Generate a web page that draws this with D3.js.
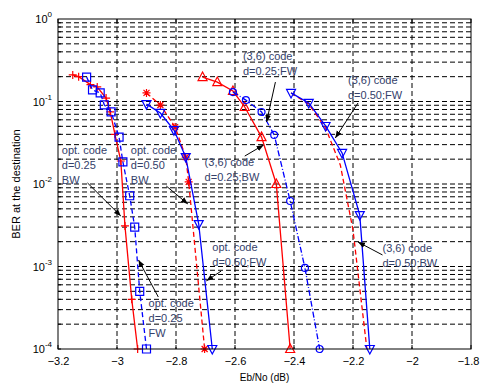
<!DOCTYPE html>
<html>
<head>
<meta charset="utf-8">
<script src="https://cdn.jsdelivr.net/npm/d3@7"></script>
<style>
  body { margin: 0; background: #fff; }
  svg { font-family: "Liberation Sans", Arial, sans-serif; }
</style>
</head>
<body>
<div id="chart"></div>
<script>
// x: Eb/No (dB), y: BER at the destination
const optBw025X = [-3.15, -3.13, -3.09, -3.067, -3.037, -3.023, -3.007, -2.987, -2.973, -2.95, -2.93];
const optBw025Y = [0.21, 0.20, 0.16, 0.15, 0.11, 0.075, 0.04, 0.019, 0.0031, 0.0004, 0.0001];

const optFw025X = [-3.103, -3.083, -3.057, -3.043, -3.02, -2.993, -2.98, -2.957, -2.94, -2.923, -2.9];
const optFw025Y = [0.198, 0.138, 0.127, 0.091, 0.075, 0.037, 0.0185, 0.0072, 0.003, 0.0005, 0.0001];

const optBw050X = [-2.9, -2.853, -2.803, -2.767, -2.757, -2.703];
const optBw050Y = [0.127, 0.0907, 0.049, 0.0212, 0.0106, 0.0001];

const optFw050X = [-2.9, -2.853, -2.807, -2.767, -2.723, -2.677];
const optFw050Y = [0.093, 0.0726, 0.045, 0.0212, 0.00327, 0.0001];

const c36Bw025X = [-2.71, -2.66, -2.607, -2.567, -2.51, -2.46, -2.413];
const c36Bw025Y = [0.198, 0.172, 0.134, 0.0858, 0.037, 0.01, 0.0001];

const c36Fw025X = [-2.607, -2.563, -2.51, -2.467, -2.413, -2.363, -2.313];
const c36Fw025Y = [0.13, 0.104, 0.0746, 0.0393, 0.00622, 0.00096, 0.0001];

const c36Fw050X = [-2.41, -2.35, -2.293, -2.237, -2.177, -2.143];
const c36Fw050Y = [0.127, 0.096, 0.0505, 0.0238, 0.0042, 0.0001];

const c36Bw050X = [-2.41, -2.35, -2.293, -2.243, -2.2, -2.153];
const c36Bw050Y = [0.127, 0.093, 0.0477, 0.017, 0.00277, 0.0001];

const xTicks = [-3.2, -3, -2.8, -2.6, -2.4, -2.2, -2, -1.8];
const yDecades = [0, -1, -2, -3, -4];

// annotation text + arrow, in data coordinates
const notes = [
  { lines: ['opt. code', 'd=0.25', 'BW'], at: [-3.187, 0.0231], from: [-3.1, 0.0103], to: [-2.987, 0.00409] },
  { lines: ['opt. code', 'd=0.50', 'BW'], at: [-2.953, 0.0231], from: [-2.833, 0.00946], to: [-2.76, 0.00573] },
  { lines: ['opt. code', 'd=0.25', 'FW'], at: [-2.893, 0.000323], from: [-2.86, 0.000427], to: [-2.927, 0.0012] },
  { lines: ['opt. code', 'd=0.50;FW'], at: [-2.677, 0.00154], from: [-2.647, 0.00088], to: [-2.697, 0.00067] },
  { lines: ['(3,6) code', 'd=0.25;BW'], at: [-2.703, 0.0165], from: [-2.567, 0.0218], to: [-2.503, 0.0297] },
  { lines: ['(3,6) code', 'd=0.25;FW'], at: [-2.573, 0.32], from: [-2.463, 0.172], to: [-2.493, 0.0565] },
  { lines: ['(3,6) code', 'd=0.50;FW'], at: [-2.217, 0.163], from: [-2.183, 0.0959], to: [-2.26, 0.0361] },
  { lines: ['(3,6) code', 'd=0.50;BW'], at: [-2.1, 0.0015], from: [-2.1, 0.00138], to: [-2.183, 0.00198] }
];

const series = [
  { xs: optBw025X, ys: optBw025Y, color: '#ff0000', dash: null, marker: 'plus' },
  { xs: optFw025X, ys: optFw025Y, color: '#0000ff', dash: '5,3', marker: 'square' },
  { xs: optBw050X, ys: optBw050Y, color: '#ff0000', dash: '5,3', marker: 'star' },
  { xs: optFw050X, ys: optFw050Y, color: '#0000ff', dash: null, marker: 'tridown' },
  { xs: c36Bw025X, ys: c36Bw025Y, color: '#ff0000', dash: null, marker: 'triup' },
  { xs: c36Fw025X, ys: c36Fw025Y, color: '#0000ff', dash: '6,2,1,2', marker: 'circle' },
  { xs: c36Bw050X, ys: c36Bw050Y, color: '#ff0000', dash: '5,3', marker: null },
  { xs: c36Fw050X, ys: c36Fw050Y, color: '#0000ff', dash: null, marker: 'tridown' }
];

const W = 480, H = 385;
const margin = { top: 19, right: 9, bottom: 36, left: 58 };
const width = W - margin.left - margin.right;
const height = H - margin.top - margin.bottom;

const svg = d3.select('#chart').append('svg')
  .attr('width', W).attr('height', H);
const g = svg.append('g').attr('transform', `translate(${margin.left},${margin.top})`);

const x = d3.scaleLinear().domain([-3.2, -1.8]).range([0, width]);
const y = d3.scaleLog().domain([1e-4, 1]).range([height, 0]);

// grid
const minor = [];
yDecades.slice(1).forEach(e => { for (let k = 1; k <= 9; k++) minor.push(k * Math.pow(10, e)); });
g.append('g').selectAll('line').data(minor.filter(v => v > 1e-4 && v < 1)).enter().append('line')
  .attr('x1', 0).attr('x2', width)
  .attr('y1', d => y(d)).attr('y2', d => y(d))
  .attr('stroke', '#000').attr('stroke-dasharray', '5,3').attr('stroke-width', 1);
g.append('g').selectAll('line').data(xTicks.slice(1, -1)).enter().append('line')
  .attr('x1', d => x(d)).attr('x2', d => x(d))
  .attr('y1', 0).attr('y2', height)
  .attr('stroke', '#000').attr('stroke-dasharray', '5,3').attr('stroke-width', 1);

// curves
const line = d3.line().x(d => x(d[0])).y(d => y(d[1]));
const markerPath = (type, cx, cy) => {
  const s = 4;
  switch (type) {
    case 'plus': return `M${cx - s},${cy}H${cx + s}M${cx},${cy - s}V${cy + s}`;
    case 'star': return `M${cx - s},${cy}H${cx + s}M${cx},${cy - s}V${cy + s}M${cx - 3},${cy - 3}L${cx + 3},${cy + 3}M${cx - 3},${cy + 3}L${cx + 3},${cy - 3}`;
    case 'square': return `M${cx - 4},${cy - 4}h8v8h-8z`;
    case 'triup': return `M${cx},${cy - 5}L${cx + 4.5},${cy + 3.5}L${cx - 4.5},${cy + 3.5}z`;
    case 'tridown': return `M${cx},${cy + 5}L${cx + 4.5},${cy - 3.5}L${cx - 4.5},${cy - 3.5}z`;
    case 'circle': return `M${cx + 3.5},${cy}A3.5,3.5 0 1,1 ${cx - 3.5},${cy}A3.5,3.5 0 1,1 ${cx + 3.5},${cy}z`;
  }
  return '';
};

series.forEach(s => {
  const pts = s.xs.map((v, i) => [v, s.ys[i]]);
  g.append('path').datum(pts)
    .attr('d', line).attr('fill', 'none')
    .attr('stroke', s.color).attr('stroke-width', 1.3)
    .attr('stroke-dasharray', s.dash);
  if (s.marker) {
    g.append('g').selectAll('path').data(pts).enter().append('path')
      .attr('d', d => markerPath(s.marker, x(d[0]), y(d[1])))
      .attr('fill', 'none').attr('stroke', s.color).attr('stroke-width', 1.2);
  }
});

// annotations
svg.append('defs').append('marker')
  .attr('id', 'arr').attr('viewBox', '0 0 10 10').attr('refX', 10).attr('refY', 5)
  .attr('markerWidth', 7).attr('markerHeight', 7).attr('orient', 'auto')
  .append('path').attr('d', 'M0,1L10,5L0,9z').attr('fill', '#000');

notes.forEach(n => {
  g.append('line')
    .attr('x1', x(n.from[0])).attr('y1', y(n.from[1]))
    .attr('x2', x(n.to[0])).attr('y2', y(n.to[1]))
    .attr('stroke', '#000').attr('stroke-width', 1)
    .attr('marker-end', 'url(#arr)');
  const t = g.append('text')
    .attr('x', x(n.at[0])).attr('y', y(n.at[1]))
    .attr('font-size', 11).attr('fill', '#33406a');
  n.lines.forEach((l, i) => {
    t.append('tspan').attr('x', x(n.at[0])).attr('dy', i ? 15 : 0).text(l);
  });
});

// axes box
g.append('rect').attr('width', width).attr('height', height)
  .attr('fill', 'none').attr('stroke', '#000').attr('stroke-width', 1);

const xAxis = g.append('g').attr('transform', `translate(0,${height})`)
  .call(d3.axisBottom(x).tickValues(xTicks).tickSize(0).tickPadding(8).tickFormat(d => d3.format('')(+d.toFixed(1))));
xAxis.select('.domain').remove();
xAxis.selectAll('text').attr('font-size', 11).attr('fill', '#000').style('font-family', 'Liberation Sans, Arial, sans-serif');
// keep the last label inside the window
xAxis.selectAll('text').filter(d => d === xTicks[xTicks.length - 1]).attr('dx', -3);

// inside ticks
g.append('g').selectAll('line').data(xTicks).enter().append('line')
  .attr('x1', d => x(d)).attr('x2', d => x(d)).attr('y1', height).attr('y2', height - 4)
  .attr('stroke', '#000');
g.append('g').selectAll('line').data(xTicks).enter().append('line')
  .attr('x1', d => x(d)).attr('x2', d => x(d)).attr('y1', 0).attr('y2', 4)
  .attr('stroke', '#000');
g.append('g').selectAll('line').data(minor).enter().append('line')
  .attr('x1', 0).attr('x2', 3)
  .attr('y1', d => y(d)).attr('y2', d => y(d)).attr('stroke', '#000');

// y tick labels 10^e
const yl = g.append('g').selectAll('text').data(yDecades).enter().append('text')
  .attr('x', -6).attr('y', d => y(Math.pow(10, d)) + 4)
  .attr('text-anchor', 'end').attr('font-size', 11).attr('fill', '#000');
yl.append('tspan').text('10');
yl.append('tspan').attr('dy', -6).attr('font-size', 8).text(d => d);

// axis labels
svg.append('text')
  .attr('x', margin.left + width / 2).attr('y', H - 4)
  .attr('text-anchor', 'middle').attr('font-size', 10).attr('fill', '#000')
  .text('Eb/No (dB)');
svg.append('text')
  .attr('transform', `translate(20,${margin.top + height / 2}) rotate(-90)`)
  .attr('text-anchor', 'middle').attr('font-size', 11).attr('fill', '#000')
  .text('BER at the destination');
</script>
</body>
</html>
